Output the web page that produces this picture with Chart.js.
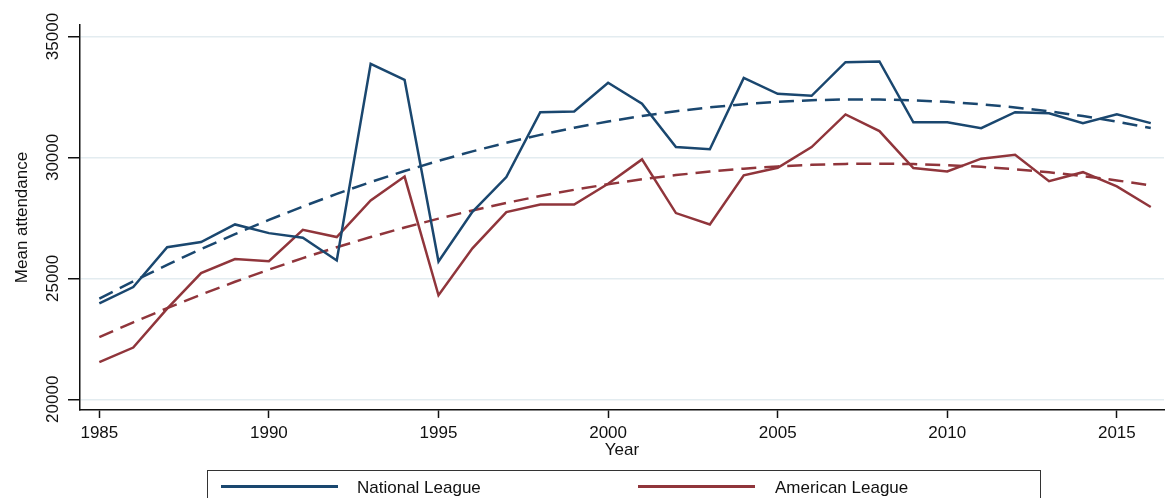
<!DOCTYPE html>
<html>
<head>
<meta charset="utf-8">
<script src="https://cdn.jsdelivr.net/npm/chart.js@4/dist/chart.umd.min.js"></script>
<style>
  html, body { margin: 0; padding: 0; background: #fff; }
  #wrap { position: relative; width: 1165px; height: 498px; overflow: hidden; }
  #legend {
    position: absolute; left: 207px; top: 470px; width: 834px; height: 40px;
    border: 1.5px solid #333; box-sizing: border-box;
    font-family: "Liberation Sans", Arial, sans-serif; font-size: 17px; color: #111;
  }
  .item { position: absolute; top: 7px; height: 20px; line-height: 20px; }
  .swatch { position: absolute; top: 14px; height: 3px; }
</style>
</head>
<body>
<div id="wrap">
  <canvas id="chart" width="1165" height="498"></canvas>
  <div id="legend">
    <div class="swatch" style="left:13px;width:117px;background:#1a476f"></div>
    <div class="item" style="left:149px">National League</div>
    <div class="swatch" style="left:430px;width:117px;background:#90353b"></div>
    <div class="item" style="left:567px">American League</div>
  </div>
</div>
<script>
const years = [1985, 1986, 1987, 1988, 1989, 1990, 1991, 1992, 1993, 1994, 1995, 1996,
  1997, 1998, 1999, 2000, 2001, 2002, 2003, 2004, 2005, 2006, 2007, 2008, 2009, 2010,
  2011, 2012, 2013, 2014, 2015, 2016];

const national = [23970, 24640, 26290, 26500, 27230, 26870, 26680, 25740, 33870, 33210,
  25700, 27750, 29190, 31870, 31900, 33090, 32220, 30430, 30340, 33290, 32630, 32550,
  33940, 33970, 31450, 31450, 31210, 31870, 31830, 31420, 31780, 31420];

const american = [21540, 22140, 23750, 25220, 25800, 25710, 27010, 26710, 28220, 29210,
  24300, 26240, 27740, 28050, 28050, 28910, 29920, 27700, 27230, 29260, 29570, 30430,
  31780, 31090, 29560, 29420, 29950, 30110, 29020, 29390, 28800, 27950];

// fitted (dashed) curves
const nationalFit = [24160, 24877, 25561, 26212, 26831, 27418, 27971, 28492, 28981, 29437,
  29860, 30251, 30609, 30934, 31227, 31488, 31715, 31910, 32073, 32203, 32300, 32365,
  32397, 32396, 32363, 32298, 32199, 32068, 31905, 31709, 31480, 31219];

const americanFit = [22570, 23183, 23769, 24328, 24859, 25362, 25839, 26288, 26709, 27103,
  27470, 27809, 28121, 28406, 28663, 28893, 29095, 29270, 29417, 29537, 29630, 29695,
  29733, 29744, 29727, 29683, 29611, 29512, 29385, 29231, 29050, 28841];

const xTicks = [1985, 1990, 1995, 2000, 2005, 2010, 2015];
const yTicks = [20000, 25000, 30000, 35000];

const blue = '#1a476f';
const red = '#90353b';
const font = "'Liberation Sans', Arial, sans-serif";

function pts(vals) {
  return years.map((y, i) => ({ x: y, y: vals[i] }));
}

// rotated y tick labels, drawn at the tick positions of the y scale
const yLabels = {
  id: 'yLabels',
  afterDraw(chart) {
    const c = chart.ctx;
    const sc = chart.scales.y;
    c.save();
    c.fillStyle = '#111';
    c.font = '17px ' + font;
    c.textAlign = 'center';
    c.textBaseline = 'middle';
    yTicks.forEach(v => {
      c.save();
      c.translate(53, sc.getPixelForValue(v));
      c.rotate(-Math.PI / 2);
      c.fillText(String(v), 0, 0);
      c.restore();
    });
    c.restore();
  }
};

new Chart(document.getElementById('chart'), {
  type: 'line',
  data: {
    datasets: [
      { label: 'National League', data: pts(national), borderColor: blue, borderWidth: 2.5 },
      { label: 'American League', data: pts(american), borderColor: red, borderWidth: 2.5 },
      { label: 'NL fit', data: pts(nationalFit), borderColor: blue, borderWidth: 2.5, borderDash: [15, 8] },
      { label: 'AL fit', data: pts(americanFit), borderColor: red, borderWidth: 2.5, borderDash: [15, 8] }
    ]
  },
  options: {
    animation: false,
    responsive: false,
    elements: { point: { radius: 0 }, line: { tension: 0, fill: false } },
    layout: { padding: { left: 0, right: 1, top: 25, bottom: 37 } },
    plugins: { legend: { display: false }, tooltip: { enabled: false } },
    scales: {
      x: {
        type: 'linear',
        min: 1984.43,
        max: 2016.39,
        afterBuildTicks: s => { s.ticks = xTicks.map(v => ({ value: v })); },
        afterFit: s => { s.height = 51; },
        border: { color: '#111', width: 1.5 },
        grid: { drawOnChartArea: false, drawTicks: true, tickLength: 8, tickColor: '#111', tickWidth: 1.5 },
        ticks: { color: '#111', font: { family: font, size: 17 }, padding: 5, maxRotation: 0, callback: v => String(v) },
        title: { display: true, text: 'Year', color: '#111', font: { family: font, size: 17 }, padding: 0 }
      },
      y: {
        min: 19557,
        max: 35476,
        afterBuildTicks: s => { s.ticks = yTicks.map(v => ({ value: v })); },
        afterFit: s => { s.width = 80; },
        border: { color: '#111', width: 1.5 },
        grid: { color: '#e3ecf0', lineWidth: 1.5, tickLength: 12, tickColor: '#111', tickWidth: 1.5 },
        ticks: { display: false },
        title: { display: true, text: 'Mean attendance', color: '#111', font: { family: font, size: 17 }, padding: { top: 12 } }
      }
    }
  },
  plugins: [yLabels]
});
</script>
</body>
</html>
